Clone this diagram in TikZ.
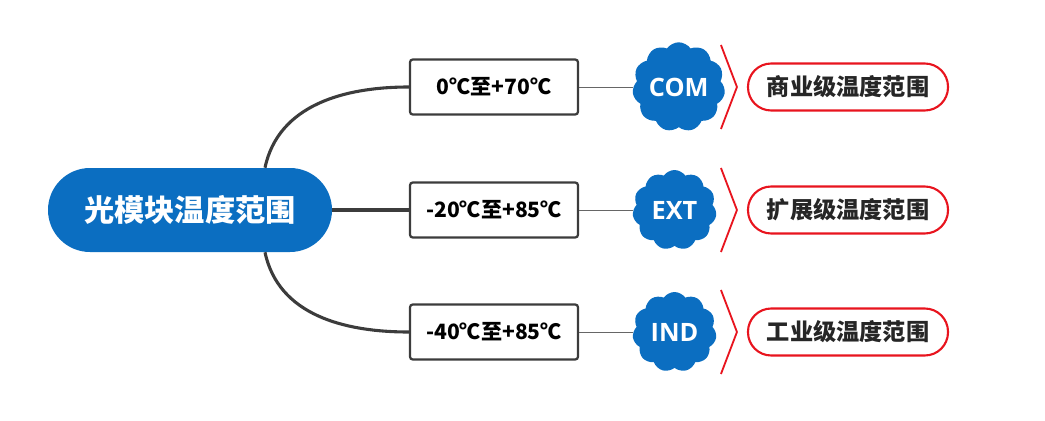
\documentclass[tikz,border=0pt]{standalone}
\usepackage{fontspec}
\setmainfont{Noto Sans CJK SC}
\newfontfamily\latinfont{Open Sans}
\usetikzlibrary{shapes.symbols, positioning, calc}
\definecolor{mapblue}{HTML}{0B6EC1}
\definecolor{linegray}{HTML}{3C3C3C}
\definecolor{tagred}{HTML}{E8141E}
\tikzset{
  % root of the map
  rootnode/.style={
    rectangle, rounded corners=1.05cm,
    fill=mapblue, text=white,
    minimum width=7.1cm, minimum height=2.1cm,
    font=\fontsize{21.5}{25}\selectfont\bfseries
  },
  % temperature range boxes
  rangebox/.style={
    rectangle, rounded corners=2pt,
    draw=linegray, line width=1.6pt, fill=white,
    minimum width=4.2cm, minimum height=1.375cm,
    font=\fontsize{15}{18}\selectfont\bfseries
  },
  % grade clouds
  gradecloud/.style={
    cloud, cloud puffs=11, cloud puff arc=110, aspect=1.05,
    fill=mapblue, text=white, inner sep=0pt,
    minimum width=2.1cm, minimum height=2cm,
    font=\latinfont\fontsize{18}{21}\selectfont\bfseries
  },
  % red summary tags
  gradetag/.style={
    rectangle, rounded corners=0.58cm,
    draw=tagred, line width=1.5pt, fill=white, text=black!85,
    minimum width=5cm, minimum height=1.175cm,
    font=\fontsize{16.5}{19}\selectfont\bfseries
  },
  branch/.style={draw=linegray, line width=2.2pt},
  thinlink/.style={draw=gray!80!black, line width=0.6pt},
  bracket/.style={draw=tagred, line width=1.3pt}
}
\begin{document}
\begin{tikzpicture}
  \useasboundingbox (0,0) rectangle (26.125,10.5);

  \node[rootnode] (root) at (4.75,5.25) {光模块温度范围};

  \node[rangebox] (r1) at (12.35,8.325) {0℃至+70℃};
  \node[rangebox] (r2) at (12.35,5.25) {-20℃至+85℃};
  \node[rangebox] (r3) at (12.35,2.2) {-40℃至+85℃};

  \node[gradecloud, right=1.35cm of r1] (c1) {COM};
  \node[gradecloud, right=1.35cm of r2] (c2) {EXT};
  \node[gradecloud, right=1.35cm of r3] (c3) {IND};

  \node[gradetag] (t1) at (21.2,8.325) {商业级温度范围};
  \node[gradetag] (t2) at (21.2,5.25) {扩展级温度范围};
  \node[gradetag] (t3) at (21.2,2.2) {工业级温度范围};

  % branches from the root
  \draw[branch] ([xshift=1.875cm]root.north) to[out=78,in=180] (r1.west);
  \draw[branch] (root.east) -- (r2.west);
  \draw[branch] ([xshift=1.875cm]root.south) to[out=-78,in=180] (r3.west);

  \draw[thinlink] (r1.east) -- (c1.west);
  \draw[thinlink] (r2.east) -- (c2.west);
  \draw[thinlink] (r3.east) -- (c3.west);

  % brackets in front of the tags
  \foreach \t in {t1,t2,t3}{
    \draw[bracket] ($(\t.west)+(-0.65,1.05)$) -- ($(\t.west)+(-0.25,0)$)
      -- ($(\t.west)+(-0.65,-1.05)$);
  }

\end{tikzpicture}
\end{document}
